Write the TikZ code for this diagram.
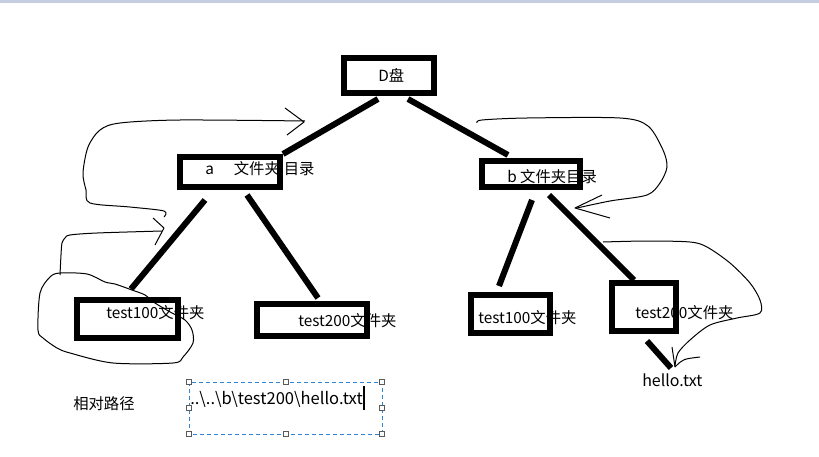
\documentclass[tikz,border=0pt]{standalone}
\usepackage{fontspec}
\setmainfont{Noto Sans CJK SC}
\usetikzlibrary{calc}
\definecolor{topbar}{HTML}{C5CDE0}
\definecolor{selblue}{HTML}{2F86D6}
\definecolor{handle}{HTML}{5A5A5A}
\begin{document}
\begin{tikzpicture}[x=0.75pt,y=-0.75pt,
  boxnode/.style={draw=black,line width=4.5pt,inner sep=0pt,fill=none},
  link/.style={line width=4.5pt,black},
  label/.style={anchor=west,inner sep=0pt,font=\fontsize{11.5pt}{13pt}\selectfont,text=black},
  biglabel/.style={label,font=\fontsize{12pt}{14pt}\selectfont},
  pathlabel/.style={label,font=\fontsize{12.4pt}{14pt}\selectfont},
  hand/.style={line width=0.75pt,black,line join=round},
  grip/.style={draw=handle,fill=white,line width=0.75pt,minimum size=3.75pt,inner sep=0pt}]
\useasboundingbox (0,0) rectangle (819,457);
\fill[topbar] (0,0) rectangle (819,3);

% boxes
\node[boxnode,minimum width=67.5pt,minimum height=26.25pt] (D) at (389,75.5) {};
\node[boxnode,minimum width=75pt,minimum height=22.5pt] (a) at (230,172) {};
\node[boxnode,minimum width=75.75pt,minimum height=28.5pt] (aL) at (127.5,319) {};
\node[boxnode,minimum width=82.5pt,minimum height=24pt] (aR) at (311.5,320) {};
\node[boxnode,minimum width=73.5pt,minimum height=19.5pt] (b) at (531,174) {};
\node[boxnode,minimum width=59.25pt,minimum height=28.5pt] (bL) at (510.5,314) {};
\node[boxnode,minimum width=48pt,minimum height=36pt] (bR) at (644,307) {};

% texts
\node[label] (tD) at (378,75) {D盘};
\node[label] (ta) at (205,169) {a\hspace{15pt}文件夹\hspace{3pt}目录};
\node[label] (taL) at (106,313) {test100文件夹};
\node[label] (taR) at (298,321) {test200文件夹};
\node[label] (tb) at (507,177) {b 文件夹目录};
\node[label] (tbL) at (478,318) {test100文件夹};
\node[label] (tbR) at (635,313) {test200文件夹};
\node[biglabel] (hello) at (642,380) {hello.txt};
\node[label] (rel) at (73,404) {相对路径};

% connectors
\draw[link] ($(D.south)+(-11,3)$) -- (a.north east);
\draw[link] ($(D.south)+(19,3)$) -- ($(b.north)+(-23,-3)$);
\draw[link] ($(a.south)+(-25,10)$) -- ($(aL.north)+(3.5,-8)$);
\draw[link] ($(a.south)+(17,5)$) -- ($(aR.north)+(6.5,-3)$);
\draw[link] ($(b.south)+(1,10)$) -- ($(bL.north)+(-11.5,-6)$);
\draw[link] ($(b.south)+(18,5)$) -- ($(bR.north)+(-10,0)$);
\draw[link] ($(bR.south)+(3,7)$) -- ($(hello.west)+(29,-12)$);

% hand-drawn curves
\draw[hand] plot[smooth,tension=0.5] coordinates {(164,217) (164,211) (130,207) (90,203) (86,190) (83,173) (88,147) (100,130) (120,123) (180,120) (305,121)};
\draw[hand] (285,108) -- (304,122) -- (287,135);

\draw[hand] plot[smooth,tension=0.5] coordinates {(60,275) (61,255) (62,243) (65,238) (70,235) (97,233) (162,231)};
\draw[hand] (153,218) -- (164,228) -- (155,245);

\draw[hand] plot[smooth cycle,tension=0.5] coordinates {(145,295) (155,303) (172,313) (185,320) (192,330) (193,343) (183,357) (173,363) (113,363) (70,353) (57,348) (43,338) (38,330) (40,293) (50,277) (60,273) (87,274) (105,282) (115,284) (132,290)};

\draw[hand] plot[smooth,tension=0.5] coordinates {(477,123) (482,120) (527,118) (620,118) (648,126) (663,150) (667,167) (660,183) (647,195) (610,201) (577,208)};
\draw[hand] (602,195) -- (575,208) -- (610,218);

\draw[hand] plot[smooth,tension=0.5] coordinates {(603,242) (647,241) (690,242) (707,247) (730,263) (750,283) (760,300) (760,313) (737,318) (710,325) (690,340) (678,353) (675,366)};
\draw[hand] (672,347) -- (675,367);
\draw[hand] (675,367) .. controls (683,359) .. (700,357);

% selection box
\draw[selblue,line width=0.75pt,dash pattern=on 3pt off 2.25pt] (189,382) rectangle (382,434);
\node[grip] (g1) at (189,382) {};
\node[grip] (g2) at (286,382) {};
\node[grip] (g3) at (382,382) {};
\node[grip] (g4) at (189,408) {};
\node[grip] (g5) at (382,408) {};
\node[grip] (g6) at (189,434) {};
\node[grip] (g7) at (286,434) {};
\node[grip] (g8) at (382,434) {};
\node[pathlabel] (path) at (190,399) {..\textbackslash..\textbackslash b\textbackslash test200\textbackslash hello.txt};
\draw[black,line width=1pt] ($(path.east)+(1,-13)$) -- ($(path.east)+(1,11)$);
\end{tikzpicture}
\end{document}
